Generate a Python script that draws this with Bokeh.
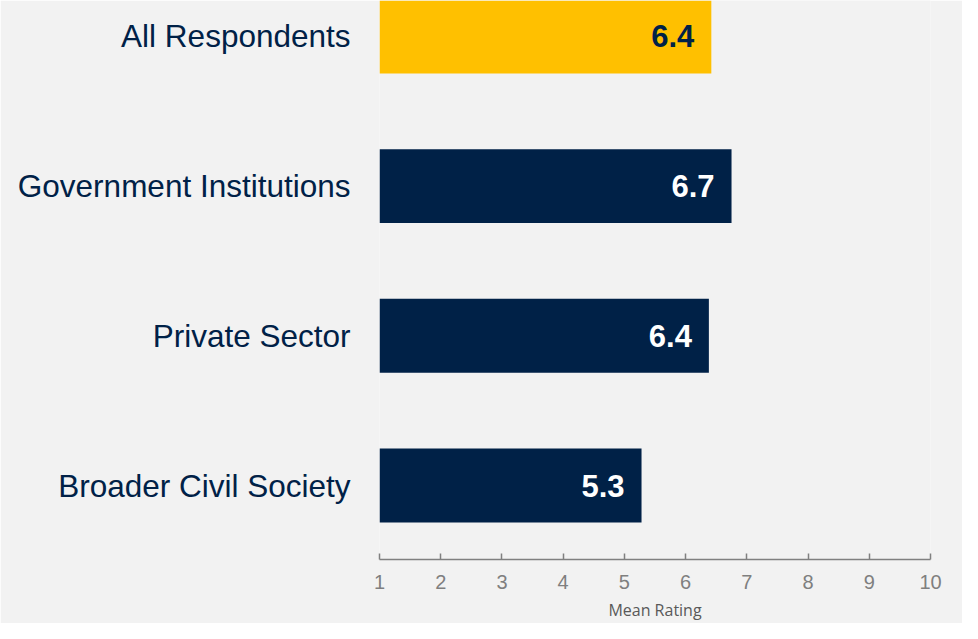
from bokeh.plotting import figure
from bokeh.models import Range1d, FixedTicker, ColumnDataSource
from bokeh.core.properties import value
from bokeh.embed import file_html
from bokeh.resources import INLINE

categories = ["All Respondents", "Government Institutions", "Private Sector", "Broader Civil Society"]
means = [6.42, 6.75, 6.38, 5.28]
value_labels = ["6.4", "6.7", "6.4", "5.3"]
bar_colors = ["#FFC000", "#002147", "#002147", "#002147"]
label_colors = ["#002147", "#FFFFFF", "#FFFFFF", "#FFFFFF"]
x_ticks = [1, 2, 3, 4, 5, 6, 7, 8, 9, 10]

ypos = [len(categories) - 1 - i for i in range(len(categories))]

src = ColumnDataSource(dict(y=ypos, right=means, label=value_labels,
                            color=bar_colors, lcolor=label_colors))

p = figure(width=962, height=623, output_backend="svg", toolbar_location=None,
           x_range=Range1d(1, 10), y_range=Range1d(-0.494, 3.24),
           min_border_left=379, min_border_right=32, min_border_top=0,
           min_border_bottom=64)
p.background_fill_color = "#F2F2F2"
p.border_fill_color = "#F2F2F2"
p.outline_line_color = None
p.xgrid.visible = False
p.ygrid.visible = False

p.hbar(y="y", left=1, right="right", height=0.494, fill_color="color",
       line_color=None, source=src)
p.text(x="right", y="y", text="label", x_offset=-17, text_align="right",
       text_baseline="middle", text_font=value("Liberation Sans"),
       text_font_style="bold", text_font_size="31px", text_color="lcolor",
       source=src)

# x axis
xa = p.xaxis[0]
xa.ticker = FixedTicker(ticks=x_ticks)
xa.minor_tick_line_color = None
xa.major_tick_in = 6
xa.major_tick_out = 0
xa.major_tick_line_color = "#808080"
xa.major_tick_line_width = 1.5
xa.axis_line_color = "#808080"
xa.axis_line_width = 1.5
xa.major_label_text_font = "Liberation Sans"
xa.major_label_text_font_size = "20px"
xa.major_label_text_color = "#7F7F7F"
xa.major_label_standoff = 15
xa.axis_label = "Mean Rating"
xa.axis_label_text_font = "Open Sans"
xa.axis_label_text_font_size = "16px"
xa.axis_label_text_font_style = "normal"
xa.axis_label_text_color = "#595959"
xa.axis_label_standoff = 7

# y axis
ya = p.yaxis[0]
ya.ticker = FixedTicker(ticks=ypos)
ya.major_label_overrides = {y: c for y, c in zip(ypos, categories)}
ya.axis_line_color = None
ya.major_tick_line_color = None
ya.minor_tick_line_color = None
ya.major_tick_in = 0
ya.major_tick_out = 0
ya.major_label_standoff = 29
ya.major_label_text_font = "Liberation Sans"
ya.major_label_text_font_size = "31.5px"
ya.major_label_text_color = "#002147"

open("out.html", "w").write(file_html(p, INLINE))
